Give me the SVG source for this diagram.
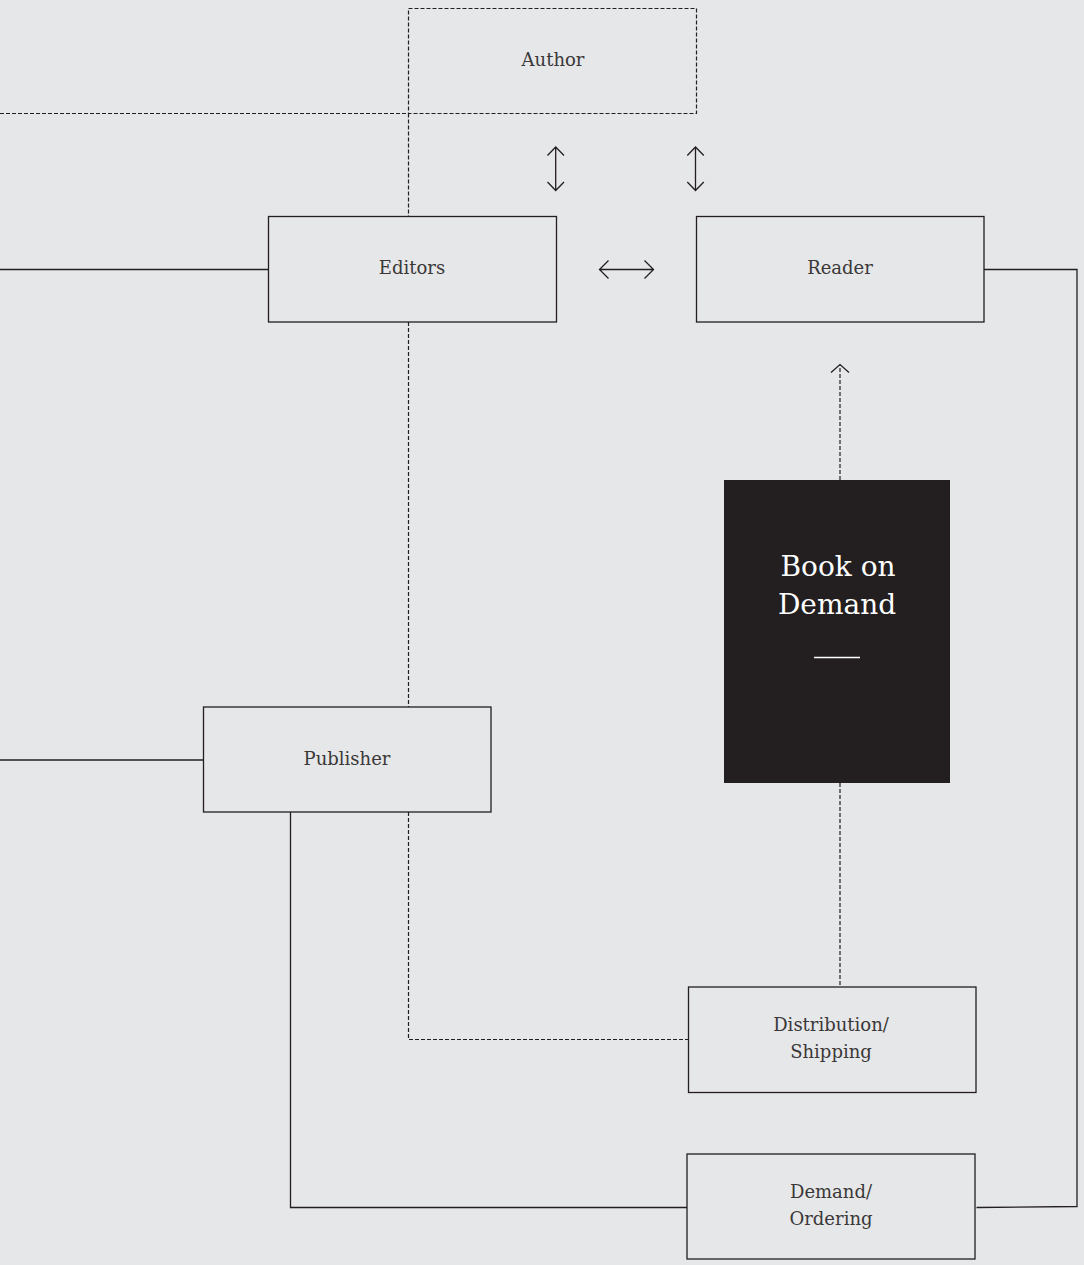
<svg xmlns="http://www.w3.org/2000/svg" width="1084" height="1265" viewBox="0 0 1084 1265">
<style>
.box{fill:none;stroke:#231f20;stroke-width:1.3}
.dbox{fill:none;stroke:#231f20;stroke-width:1.2;stroke-dasharray:4 2}
.ln{fill:none;stroke:#231f20;stroke-width:1.3}
.dl{fill:none;stroke:#231f20;stroke-width:1.2;stroke-dasharray:4 2}
.ar{fill:none;stroke:#231f20;stroke-width:1.3}
.t{font-family:"DejaVu Serif","Liberation Serif",serif;font-size:18px;fill:#3a3839;text-anchor:middle}
.tw{font-family:"DejaVu Serif","Liberation Serif",serif;font-size:28px;fill:#ffffff;text-anchor:middle}
</style>
<rect width="1084" height="1265" fill="#e6e7e8"/>
<g id="connectors">
<path class="dl" d="M0 113.5H409"/>
<path class="dl" d="M408.5 113.5V216.5"/>
<path class="ln" d="M0 269.5H268.5"/>
<path class="ln" d="M984 269.5H1077V1206.5L976.5 1207.5"/>
<path class="dl" d="M408.5 322V707"/>
<path class="ln" d="M0 760H203.5"/>
<path class="ln" d="M290.5 812V1207.5H687"/>
<path class="dl" d="M408.5 812V1039.5H688.5"/>
<path class="dl" d="M840 783V987"/>
<path class="dl" d="M840 480V365"/>
<path class="ar" d="M831 372.5L840 364.5L849 372.5"/>
<g id="arrow-author-editors">
<path class="ar" d="M555.7 147V190.5M547.5 155.5L555.7 147L564 155.5M547.5 182L555.7 190.5L564 182"/>
</g>
<g id="arrow-author-reader">
<path class="ar" d="M695.5 147V190.5M687.3 155.5L695.5 147L703.8 155.5M687.3 182L695.5 190.5L703.8 182"/>
</g>
<g id="arrow-editors-reader">
<path class="ar" d="M599.5 269.5H653.5M608.5 260.5L599.5 269.5L608.5 278.5M644.5 260.5L653.5 269.5L644.5 278.5"/>
</g>
</g>
<g id="author">
<rect class="dbox" x="408.5" y="8.5" width="288" height="105"/>
<text class="t" x="553" y="66">Author</text>
</g>
<g id="editors">
<rect class="box" x="268.5" y="216.5" width="288" height="105.5"/>
<text class="t" x="412" y="274">Editors</text>
</g>
<g id="reader">
<rect class="box" x="696.5" y="216.5" width="287.5" height="105.5"/>
<text class="t" x="840" y="274">Reader</text>
</g>
<g id="book-on-demand">
<rect x="724" y="480" width="226" height="303" fill="#231f20"/>
<text class="tw" x="838" y="576">Book on</text>
<text class="tw" x="837" y="614">Demand</text>
<path d="M814 657.5H860" stroke="#ffffff" stroke-width="1.5"/>
</g>
<g id="publisher">
<rect class="box" x="203.5" y="707" width="287.5" height="105"/>
<text class="t" x="347" y="765">Publisher</text>
</g>
<g id="distribution">
<rect class="box" x="688.5" y="987" width="287.5" height="105.5"/>
<text class="t" x="831" y="1031">Distribution/</text>
<text class="t" x="831" y="1058">Shipping</text>
</g>
<g id="demand">
<rect class="box" x="687" y="1154" width="288" height="105"/>
<text class="t" x="831" y="1198">Demand/</text>
<text class="t" x="831" y="1225">Ordering</text>
</g>
</svg>
